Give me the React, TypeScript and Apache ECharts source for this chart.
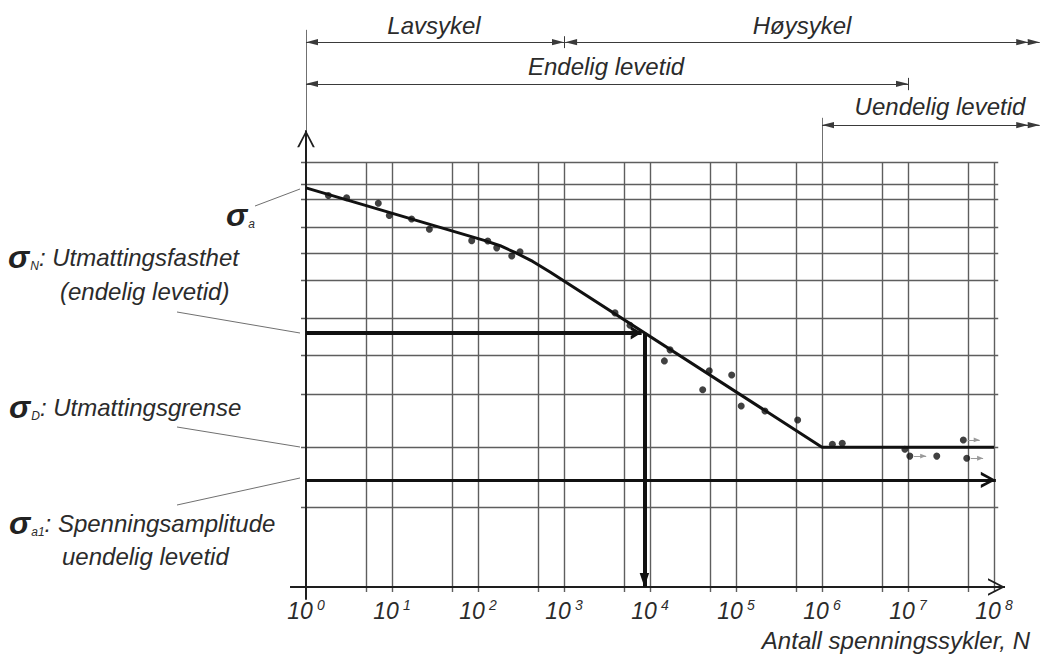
import { useEffect, useRef } from 'react';
import * as echarts from 'echarts';

// ---------- data ----------
// extent of the log axis (number of cycles) and of the stress axis
const N_MIN = 0.526;
const N_MAX = 4.024e8;
const S_MIN = -16.94;
const S_MAX = 138.12;

// vertical grid lines (cycles) and horizontal grid lines (stress levels)
const gridN = [5, 10, 50, 100, 500, 1e3, 5e3, 1e4, 5e4, 1e5, 5e5, 1e6, 5e6, 1e7, 5e7, 1e8];
const gridSigma = [100, 94.8, 91.3, 84.7, 78.6, 72.2, 63.3, 54.6, 45.4, 32.9, 18.8];

// Wöhler curve
const curveN = [1, 120.6, 181, 277, 433, 688, 1e6, 1e8];
const curveSigma = [93.9, 81.5, 80.3, 78.6, 76.6, 74.1, 32.9, 32.9];

// test results (broken specimens)
const testN = [1.82, 2.97, 6.93, 9.3, 16.9, 27.2, 84.5, 130, 165, 247, 308, 3920, 5850, 17100, 14700, 48900, 89100, 41000, 115000, 217000, 521000, 1.32e6, 1.72e6, 9.2e6, 2.16e7];
const testSigma = [92.1, 91.6, 90.3, 87.4, 86.6, 84.2, 81.5, 81.4, 79.8, 77.9, 78.9, 64.5, 61.6, 55.8, 53.2, 50.9, 49.9, 46.4, 42.6, 41.4, 39.3, 33.6, 33.8, 32.4, 30.8];

// run-outs (no fracture)
const runoutN = [1.05e7, 4.4e7, 4.82e7];
const runoutSigma = [30.8, 34.6, 30.3];

// characteristic levels
const sigmaN = 59.8;
const nAtSigmaN = 8610;
const sigmaA1 = 25.2;

// dimension rows above the chart
const rowLow = 128.2;
const rowFinite = 118.4;
const rowInfinite = 108.7;
const nLowHigh = 1e3;
const nFiniteEnd = 1e7;
const nInfiniteStart = 1e6;
const nRowEnd = 3.4e8;
const nRowEnd2 = 2.5e8;

const xTickExponents = [0, 1, 2, 3, 4, 5, 6, 7, 8];

// ---------- styles ----------
const FONT = '"Liberation Sans", Arial, Helvetica, sans-serif';
const INK = '#2b2b2b';
const GRID = '#5e5e5e';

// symbols drawn with their tip at the centre of the box
const CORNERS = 'M0,0L0,0Z M20,20L20,20Z ';
const CHEVRON = 'path://' + CORNERS + 'M10,10L15.2,20L14,20L10,12.2L6,20L4.8,20Z';
const CHEVRON_MED = 'path://' + CORNERS + 'M10,10L15.4,20L13.3,20L10,13.5L6.7,20L4.6,20Z';
const CHEVRON_HEAVY = 'path://' + CORNERS + 'M10,10L16,20L12.6,20L10,14.6L7.4,20L4,20Z';
const TRI = 'path://' + CORNERS + 'M10,10L12.6,20L7.4,20Z';
const TRI_DOWN = 'path://' + CORNERS + 'M10,10L13.4,20L6.6,20Z';
const TRI_SMALL = 'path://' + CORNERS + 'M10,10L14,20L6,20Z';

function linesSeries(name: string, segs: number[][][], color: string, width: number, symbol: string[] = ['none', 'none'], symbolSize: number = 10, z = 2) {
  return {
    name,
    type: 'lines',
    coordinateSystem: 'cartesian2d',
    polyline: false,
    silent: true,
    z,
    symbol,
    symbolSize,
    lineStyle: { color, width, opacity: 1, type: 'solid' },
    data: segs.map((c) => ({ coords: c })),
  };
}

export default function App() {
  const ref = useRef<HTMLDivElement>(null);

  useEffect(() => {
    if (!ref.current) return;
    const chart = echarts.init(ref.current, undefined, { renderer: 'svg' });

    const textBase = { font: `italic 24px ${FONT}`, fill: INK };
    const rich = {
      s: { fontSize: 32, fontStyle: 'italic', fontWeight: 'bold', fontFamily: FONT, fill: '#222', lineHeight: 30 },
      sub: { fontSize: 12, fontStyle: 'italic', fontFamily: FONT, fill: INK, lineHeight: 18, verticalAlign: 'bottom', padding: [0, 0, 0, 1] },
      t: { fontSize: 24, fontStyle: 'italic', fontFamily: FONT, fill: INK, lineHeight: 30 },
    };

    const topText = (text: string, x: number, y: number) => ({
      type: 'text', x, y, silent: true,
      style: { ...textBase, text, align: 'center', verticalAlign: 'middle' },
    });
    const leftText = (text: string, x: number, y: number) => ({
      type: 'text', x, y, silent: true,
      style: { text, rich, align: 'left', verticalAlign: 'middle', font: `italic 24px ${FONT}`, fill: INK },
    });
    const leader = (x1: number, y1: number, x2: number, y2: number) => ({
      type: 'line', silent: true,
      shape: { x1, y1, x2, y2 },
      style: { stroke: '#707070', lineWidth: 1 },
    });

    const option: any = {
      animation: false,
      backgroundColor: '#ffffff',
      grid: { left: 282, right: 0, top: 0, bottom: 0, containLabel: false, outerBoundsMode: 'none' },
      xAxis: {
        type: 'log',
        logBase: 10,
        min: N_MIN,
        max: N_MAX,
        splitNumber: 10,
        offset: -72,
        axisLine: { show: false, onZero: false },
        axisTick: { show: false },
        splitLine: { show: false },
        minorTick: { show: false },
        axisLabel: {
          show: true,
          margin: 11,
          showMinLabel: true,
          showMaxLabel: true,
          formatter: (v: number) => {
            const e = Math.log10(v);
            const r = Math.round(e);
            if (Math.abs(e - r) > 1e-6 || xTickExponents.indexOf(r) < 0) return '';
            return `{b|10}{e|${r}}`;
          },
          rich: {
            b: { fontSize: 23, fontStyle: 'italic', fontFamily: FONT, color: INK, lineHeight: 26 },
            e: { fontSize: 14, fontStyle: 'italic', fontFamily: FONT, color: INK, lineHeight: 12, verticalAlign: 'top', padding: [0, 0, 0, 4] },
          },
        },
      },
      yAxis: {
        type: 'value',
        min: S_MIN,
        max: S_MAX,
        show: false,
        splitLine: { show: false },
      },
      series: [
        linesSeries('vgrid', gridN.map((n) => [[n, -1.2], [n, 100]]), GRID, 1.4, ['none', 'none'], 10, 1),
        linesSeries('hgrid', gridSigma.map((s) => [[0.875, s], [1.12e8, s]]), GRID, 1.4, ['none', 'none'], 10, 1),
        // axes
        linesSeries('xaxis', [[[0.652, 0], [1.343e8, 0]]], '#1e1e1e', 2, ['none', CHEVRON], 34, 3),
        linesSeries('yaxis', [[[1, -3], [1, 107.5]]], '#1e1e1e', 2, ['none', CHEVRON], 34, 3),
        linesSeries('yext', [[[1, 107.5], [1, 131.1]], [[nInfiniteStart, 100], [nInfiniteStart, 110.4]]], '#707070', 1, ['none', 'none'], 10, 2),
        // dimension rows
        linesSeries('dims', [
          [[1, rowLow], [nLowHigh, rowLow]],
          [[nLowHigh * 1.03, rowLow], [nRowEnd, rowLow]],
          [[1, rowFinite], [nFiniteEnd, rowFinite]],
          [[nInfiniteStart, rowInfinite], [nRowEnd, rowInfinite]],
        ], '#3a3a3a', 1.2, [TRI, TRI], 24, 3),
        linesSeries('dims2', [
          [[1e8, rowLow], [nRowEnd2, rowLow]],
          [[1e8, rowInfinite], [nRowEnd2, rowInfinite]],
        ], '#3a3a3a', 1.2, ['none', TRI], 24, 3),
        linesSeries('dimticks', [
          [[nLowHigh, 129.6], [nLowHigh, 126.8]],
          [[nFiniteEnd, 119.8], [nFiniteEnd, 116.9]],
        ], '#3a3a3a', 1, ['none', 'none'], 10, 3),
        // curve
        {
          name: 'curve', type: 'line', silent: true, z: 4,
          data: curveN.map((n, i) => [n, curveSigma[i]]),
          showSymbol: false, symbol: 'none',
          lineStyle: { color: '#111', width: 3 },
        },
        // characteristic arrows
        linesSeries('sigmaN', [[[1, sigmaN], [nAtSigmaN * 0.93, sigmaN]]], '#111', 4, ['none', CHEVRON_HEAVY], 22, 5),
        linesSeries('nDown', [[[nAtSigmaN, sigmaN], [nAtSigmaN, 0]]], '#111', 4, ['none', TRI_DOWN], 28, 5),
        linesSeries('sigmaA1', [[[1, sigmaA1], [1.05e8, sigmaA1]]], '#111', 3, ['none', CHEVRON_MED], 30, 5),
        // run-out arrows
        linesSeries('runoutArrows', runoutN.map((n, i) => [[n * 1.12, runoutSigma[i]], [n * 1.55, runoutSigma[i]]]), '#9a9a9a', 1, ['none', TRI_SMALL], 12, 5),
        {
          name: 'tests', type: 'scatter', silent: true, z: 6,
          symbol: 'circle', symbolSize: 7,
          itemStyle: { color: '#111' },
          data: testN.map((n, i) => [n, testSigma[i]]),
        },
        {
          name: 'runouts', type: 'scatter', silent: true, z: 6,
          symbol: 'circle', symbolSize: 7,
          itemStyle: { color: '#111' },
          data: runoutN.map((n, i) => [n, runoutSigma[i]]),
        },
      ],
      graphic: [
        topText('Lavsykel', 434, 25),
        topText('Høysykel', 802, 25),
        topText('Endelig levetid', 606, 66),
        topText('Uendelig levetid', 940, 106),
        leftText('{s|σ}{sub|a}', 226, 215),
        leftText('{s|σ}{sub|N}{t|: Utmattingsfasthet}', 8, 257),
        leftText('{t|(endelig levetid)}', 60, 291),
        leftText('{s|σ}{sub|D}{t|: Utmattingsgrense}', 9, 407),
        leftText('{s|σ}{sub|a1}{t|: Spenningsamplitude}', 9, 523),
        leftText('{t|uendelig levetid}', 62, 556),
        {
          type: 'text', x: 1030, y: 640, silent: true,
          style: { ...textBase, text: 'Antall spenningssykler, N', align: 'right', verticalAlign: 'middle' },
        },
        leader(255, 206, 300, 189),
        leader(177, 312, 300, 333),
        leader(177, 427, 300, 447),
        leader(177, 505, 300, 478),
      ],
    };

    chart.setOption(option);
    return () => chart.dispose();
  }, []);

  return (
    <div
      ref={ref}
      style={{ position: 'fixed', left: 0, top: 0, width: 1046, height: 659, background: '#fff' }}
    />
  );
}
